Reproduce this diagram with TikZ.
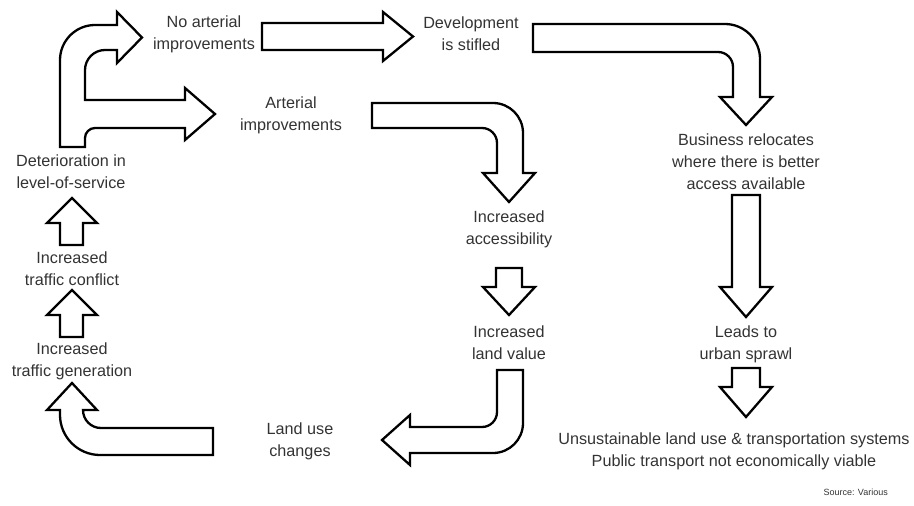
\documentclass[tikz,border=0pt]{standalone}
\usepackage{fontspec}
\setmainfont{Liberation Sans}
\begin{document}
\begin{tikzpicture}[x=1pt,y=-1pt,
  blockarrow/.style={draw=black,line width=2.3pt,line join=miter,fill=white},
  lbl/.style={align=center,text=black!80,font=\fontsize{16.2}{22}\selectfont,inner sep=0pt},
  src/.style={text=black!80,font=\fontsize{9}{11}\selectfont,inner sep=0pt,anchor=east}]
\useasboundingbox (0,0) rectangle (914,506);
% texts
\node[lbl] (noart) at (204,34) {No arterial\\improvements};
\node[lbl] (dev) at (471,34) {Development\\is stifled};
\node[lbl] (art) at (291,115) {Arterial\\improvements};
\node[lbl] (det) at (71,172) {Deterioration in\\level-of-service};
\node[lbl] (conf) at (72,269) {Increased\\traffic conflict};
\node[lbl] (gen) at (72,361) {Increased\\traffic generation};
\node[lbl] (land) at (300,441) {Land use\\changes};
\node[lbl] (acc) at (509,229) {Increased\\accessibility};
\node[lbl] (lval) at (509,343) {Increased\\land value};
\node[lbl] (bus) at (746,162) {Business relocates\\where there is better\\access available};
\node[lbl] (spr) at (746,344) {Leads to\\urban sprawl};
\node[lbl] (uns) at (734,451) {Unsustainable land use \& transportation systems\\Public transport not economically viable};
\node[src] (srcv) at (888,492) {Source: Various};
% fork arrow
\draw[blockarrow] (60,147) -- (60,60) .. controls (60,40.7) and (75.7,25) .. (95,25)
  -- (117,25) -- (117,12) -- (142,37.5) -- (117,63) -- (117,50) -- (105,50)
  .. controls (94,50) and (85,59) .. (85,70) -- (85,100) -- (185,100) -- (185,88)
  -- (215,114) -- (185,140) -- (185,128) -- (95,128)
  .. controls (89.5,128) and (85,132.5) .. (85,138) -- (85,147) -- cycle;
% no arterial -> development
\draw[blockarrow] (262,23) -- (383,23) -- (383,12) -- (413,36.5) -- (383,61) -- (383,50) -- (262,50) -- cycle;
% development -> business
\draw[blockarrow] (533,24) -- (725,24) .. controls (744.3,24) and (760,39.7) .. (760,59)
  -- (760,97) -- (772,97) -- (746,125) -- (720,97) -- (733,97) -- (733,67)
  .. controls (733,58.7) and (726.3,52) .. (718,52) -- (533,52) -- cycle;
% arterial -> accessibility
\draw[blockarrow] (372,103) -- (493,103) .. controls (509.6,103) and (523,116.4) .. (523,133)
  -- (523,173) -- (535,173) -- (509,202) -- (483,173) -- (497,173) -- (497,143)
  .. controls (497,134.7) and (490.3,128) .. (482,128) -- (372,128) -- cycle;
% accessibility -> land value
\draw[blockarrow] (496,268) -- (522,268) -- (522,287) -- (535,287) -- (509,315) -- (483,287) -- (496,287) -- cycle;
% land value -> land use
\draw[blockarrow] (497,370) -- (523,370) -- (523,423) .. controls (523,439.6) and (509.6,453) .. (493,453)
  -- (410,453) -- (410,465) -- (382,440) -- (410,415) -- (410,427) -- (482,427)
  .. controls (490.3,427) and (497,420.3) .. (497,412) -- cycle;
% land use -> traffic generation
\draw[blockarrow] (213,428) -- (213,455) -- (100,455) .. controls (78,455) and (60,437) .. (60,415)
  -- (60,410) -- (47,410) -- (72,383) -- (97,410) -- (83,410)
  .. controls (83,420) and (91,428) .. (101,428) -- cycle;
% traffic generation -> conflict
\draw[blockarrow] (60,337) -- (60,315) -- (47,315) -- (72,290) -- (97,315) -- (83,315) -- (83,337) -- cycle;
% conflict -> deterioration
\draw[blockarrow] (60,245) -- (60,223) -- (47,223) -- (72,198) -- (97,223) -- (83,223) -- (83,245) -- cycle;
% business -> sprawl
\draw[blockarrow] (732,195) -- (760,195) -- (760,287) -- (772,287) -- (746,317) -- (720,287) -- (732,287) -- cycle;
% sprawl -> unsustainable
\draw[blockarrow] (732,368) -- (760,368) -- (760,387) -- (772,387) -- (746,417) -- (720,387) -- (732,387) -- cycle;
\end{tikzpicture}
\end{document}
